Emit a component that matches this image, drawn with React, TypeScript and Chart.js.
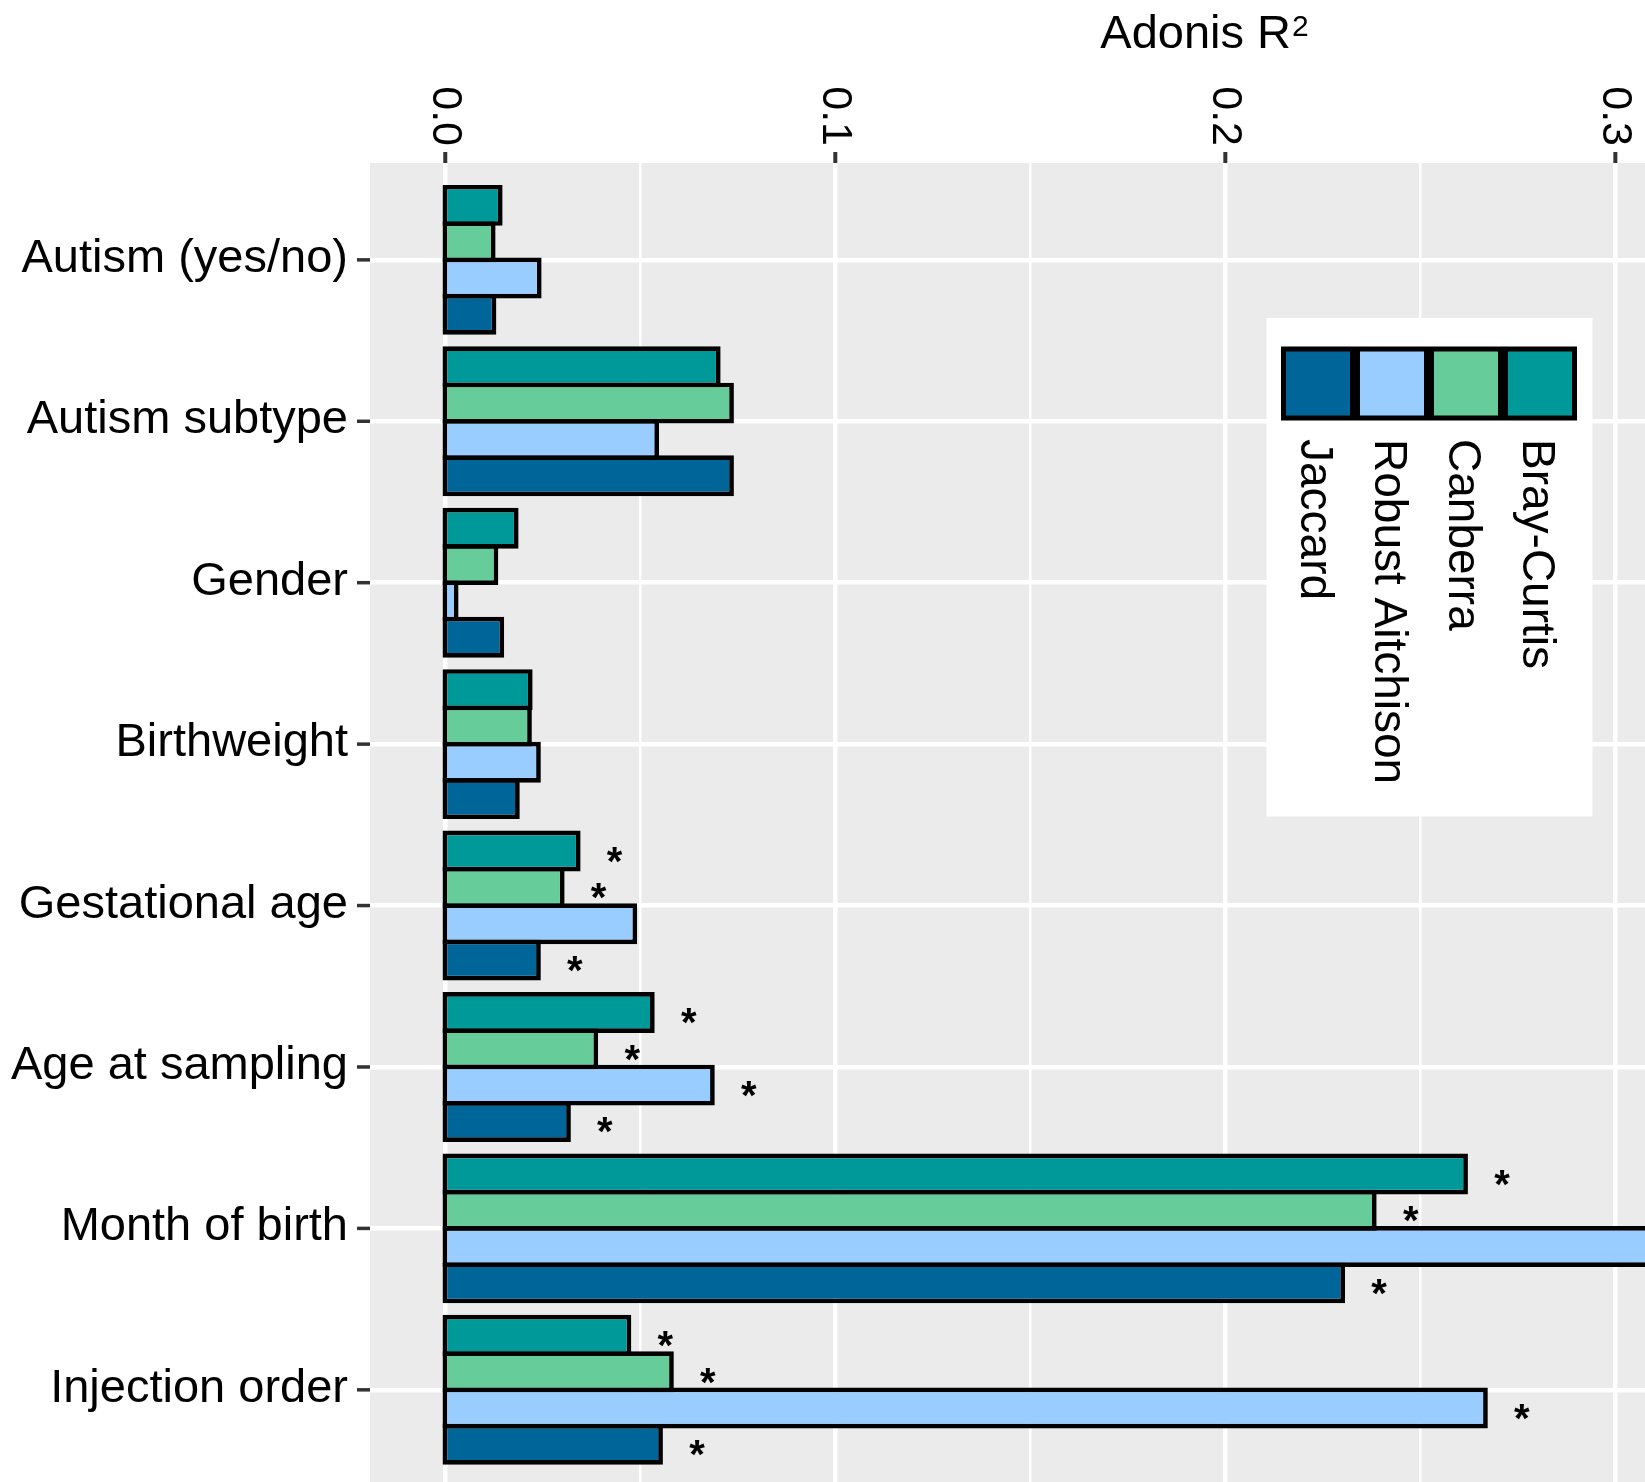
import React, { useEffect, useRef } from 'react';
import { Chart, registerables } from 'chart.js';

Chart.register(...registerables);

// ---------- data ----------
const categories = [
  'Autism (yes/no)',
  'Autism subtype',
  'Gender',
  'Birthweight',
  'Gestational age',
  'Age at sampling',
  'Month of birth',
  'Injection order',
];

const seriesNames = ['Bray-Curtis', 'Canberra', 'Robust Aitchison', 'Jaccard'];

const brayCurtis = [0.0147, 0.0706, 0.0188, 0.0224, 0.0347, 0.0537, 0.2622, 0.0477];
const canberra = [0.0129, 0.0740, 0.0136, 0.0222, 0.0306, 0.0392, 0.2388, 0.0586];
const robustAitchison = [0.0247, 0.0548, 0.0034, 0.0245, 0.0492, 0.0691, 0.387, 0.2673];
const jaccard = [0.0131, 0.0740, 0.0151, 0.0191, 0.0245, 0.0322, 0.2307, 0.0558];

const sigBrayCurtis = [false, false, false, false, true, true, true, true];
const sigCanberra = [false, false, false, false, true, true, true, true];
const sigRobustAitchison = [false, false, false, false, false, true, true, true];
const sigJaccard = [false, false, false, false, true, true, true, true];

const majorTicks = [0, 0.1, 0.2, 0.3];
const minorTicks = [0.05, 0.15, 0.25];
const tickLabels = ['0.0', '0.1', '0.2', '0.3'];

const legendOrder = ['Jaccard', 'Robust Aitchison', 'Canberra', 'Bray-Curtis'];

const xLimits = [-0.0193, 0.3076];
const yLimits = [-0.6, 7.571];

const axisTitle = 'Adonis R';
const axisTitleSup = '2';

// ---------- styles ----------
const COLORS: Record<string, string> = {
  'Bray-Curtis': '#009999',
  Canberra: '#66CC99',
  'Robust Aitchison': '#99CCFF',
  Jaccard: '#006699',
};
const FONT = '"Liberation Sans", Arial, Helvetica, sans-serif';

const seriesValues = [brayCurtis, canberra, robustAitchison, jaccard];
const seriesSig = [sigBrayCurtis, sigCanberra, sigRobustAitchison, sigJaccard];

const isMajor = (v: number) => majorTicks.some((m) => Math.abs(m - v) < 1e-9);

const decor = {
  id: 'decor',
  beforeDraw(chart: any) {
    const { ctx, chartArea: a } = chart;
    ctx.save();
    ctx.fillStyle = '#ffffff';
    ctx.fillRect(0, 0, chart.width, chart.height);
    ctx.fillStyle = '#EBEBEB';
    ctx.fillRect(a.left, a.top, a.right - a.left, a.bottom - a.top);
    ctx.restore();
  },
  afterDatasetsDraw(chart: any) {
    const { ctx } = chart;
    ctx.save();
    ctx.fillStyle = '#000';
    ctx.font = `bold 40px ${FONT}`;
    ctx.textAlign = 'center';
    ctx.textBaseline = 'alphabetic';
    seriesSig.forEach((sig, d) => {
      const meta = chart.getDatasetMeta(d);
      sig.forEach((s, i) => {
        if (!s) return;
        const el = meta.data[i];
        ctx.fillText('*', el.x + 34, el.y + 24);
      });
    });
    ctx.restore();
  },
  afterDraw(chart: any) {
    const { ctx, chartArea: a } = chart;
    const xs = chart.scales.x;
    const ys = chart.scales.y;
    ctx.save();

    // x tick marks + rotated labels
    ctx.strokeStyle = '#333333';
    ctx.lineWidth = 4;
    ctx.fillStyle = '#000';
    ctx.font = `43px ${FONT}`;
    majorTicks.forEach((v, k) => {
      const px = xs.getPixelForValue(v);
      ctx.beginPath();
      ctx.moveTo(px, 152);
      ctx.lineTo(px, a.top);
      ctx.stroke();
      ctx.save();
      ctx.translate(px, 146);
      ctx.rotate(Math.PI / 2);
      ctx.textAlign = 'right';
      ctx.textBaseline = 'middle';
      ctx.fillText(tickLabels[k], 0, 0);
      ctx.restore();
    });

    // y tick marks + labels
    ctx.lineWidth = 3.5;
    ctx.font = `47px ${FONT}`;
    ctx.textAlign = 'right';
    ctx.textBaseline = 'alphabetic';
    categories.forEach((c, i) => {
      const py = ys.getPixelForValue(i);
      ctx.beginPath();
      ctx.moveTo(357, py);
      ctx.lineTo(a.left, py);
      ctx.stroke();
      ctx.fillText(c, 348, py + 12);
    });

    // axis title
    ctx.textAlign = 'left';
    ctx.font = `47px ${FONT}`;
    const w1 = ctx.measureText(axisTitle).width;
    ctx.font = `30px ${FONT}`;
    const w2 = ctx.measureText(axisTitleSup).width;
    const start = 1204 - (w1 + w2) / 2;
    ctx.font = `47px ${FONT}`;
    ctx.fillText(axisTitle, start, 48);
    ctx.font = `30px ${FONT}`;
    ctx.fillText(axisTitleSup, start + w1 + 1, 36);

    // legend
    const lx = 1266.5, ly = 318, lw = 326, lh = 498.5;
    ctx.fillStyle = '#ffffff';
    ctx.fillRect(lx, ly, lw, lh);
    const kx = 1281, ky = 346.5, ks = 74, kb = 5;
    legendOrder.forEach((name, k) => {
      const x0 = kx + ks * k;
      ctx.fillStyle = '#000';
      ctx.fillRect(x0, ky, ks, ks);
      ctx.fillStyle = COLORS[name];
      ctx.fillRect(x0 + kb, ky + kb, ks - 2 * kb, ks - 2 * kb);
      ctx.save();
      ctx.translate(x0 + ks / 2 - 17, 439);
      ctx.rotate(Math.PI / 2);
      ctx.fillStyle = '#000';
      ctx.font = `46px ${FONT}`;
      ctx.textAlign = 'left';
      ctx.textBaseline = 'alphabetic';
      ctx.fillText(name, 0, 0);
      ctx.restore();
    });

    ctx.restore();
  },
};

export default function App() {
  const canvasRef = useRef<HTMLCanvasElement | null>(null);

  useEffect(() => {
    document.body.style.margin = '0';
    document.body.style.overflow = 'hidden';
    const canvas = canvasRef.current;
    if (!canvas) return;

    const chart = new Chart(canvas, {
      type: 'bar',
      data: {
        datasets: seriesNames.map((name, d) => ({
          label: name,
          data: seriesValues[d].map((v, i) => ({ x: v, y: i })),
          backgroundColor: COLORS[name],
          borderColor: '#000000',
          borderWidth: 4.7,
          borderSkipped: false,
          base: -0.0007,
          categoryPercentage: 0.9,
          barPercentage: 1.128,
        })),
      },
      options: {
        indexAxis: 'y',
        responsive: false,
        animation: false,
        layout: { padding: { left: 370, top: 163, right: 0, bottom: 0 } },
        plugins: {
          legend: { display: false },
          tooltip: { enabled: false },
          title: { display: false },
        },
        scales: {
          x: {
            type: 'linear',
            position: 'top',
            min: xLimits[0],
            max: xLimits[1],
            offset: false,
            grid: {
              offset: false,
              color: '#ffffff',
              lineWidth: (c: any) => (c.tick && isMajor(c.tick.value) ? 4.5 : 2.5),
              drawTicks: false,
            },
            border: { display: false },
            ticks: { display: false },
            afterBuildTicks: (s: any) => {
              s.ticks = [...majorTicks, ...minorTicks].sort((a, b) => a - b).map((v) => ({ value: v }));
            },
          },
          y: {
            type: 'linear',
            position: 'left',
            reverse: true,
            min: yLimits[0],
            max: yLimits[1],
            offset: false,
            grid: { offset: false, color: '#ffffff', lineWidth: 4.5, drawTicks: false },
            border: { display: false },
            ticks: { display: false },
            afterBuildTicks: (s: any) => {
              s.ticks = categories.map((_, i) => ({ value: i }));
            },
          },
        },
      } as any,
      plugins: [decor],
    });

    return () => chart.destroy();
  }, []);

  return (
    <div style={{ width: 1645, height: 1482, overflow: 'hidden' }}>
      <canvas ref={canvasRef} width={1645} height={1482} style={{ display: 'block' }} />
    </div>
  );
}
